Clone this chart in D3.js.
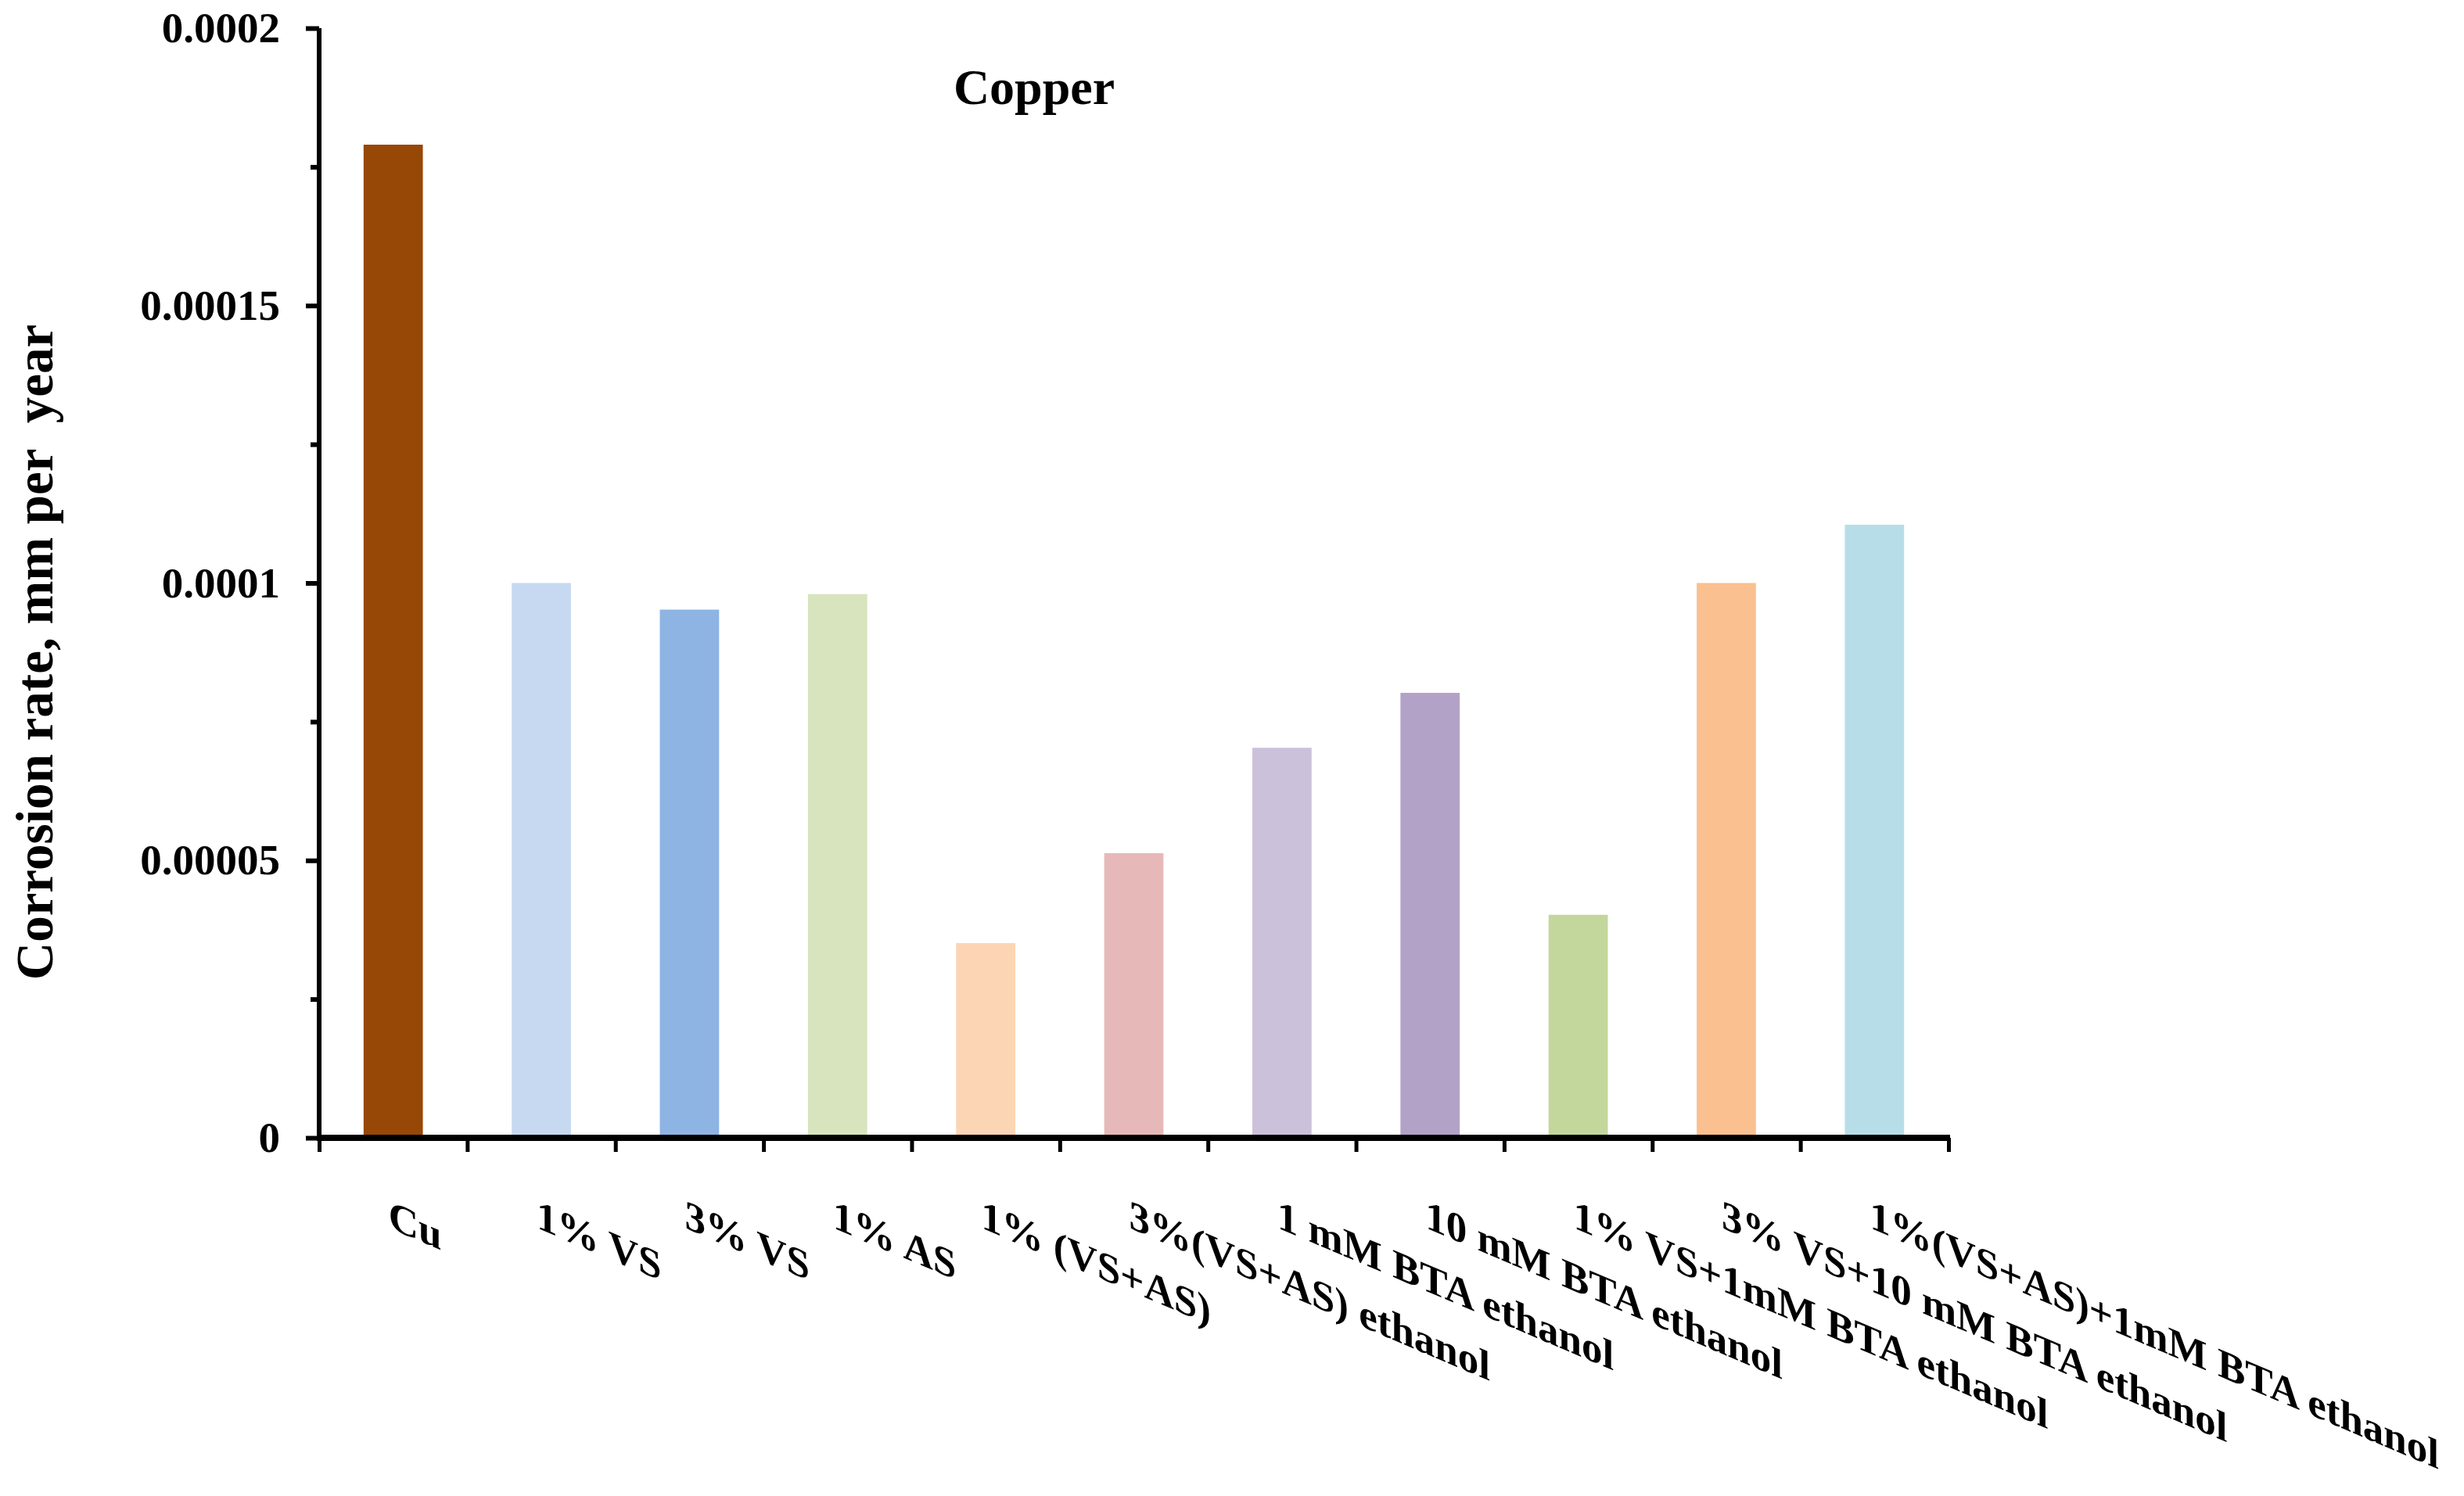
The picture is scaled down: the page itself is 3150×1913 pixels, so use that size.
<!DOCTYPE html>
<html>
<head>
<meta charset="utf-8" />
<title>Copper corrosion rate</title>
<style>
  *{margin:0;padding:0;}
  body{background:#fff;}
  text{font-family:"Liberation Serif","Times New Roman",serif;font-weight:bold;fill:#000;}
</style>
</head>
<body>
<script src="https://cdn.jsdelivr.net/npm/d3@7/dist/d3.min.js"></script>
<script>
// data
var categories = ["Cu", "1% VS", "3% VS", "1% AS", "1% (VS+AS)", "3%(VS+AS) ethanol",
  "1 mM BTA ethanol", "10 mM BTA ethanol", "1% VS+1mM BTA ethanol",
  "3% VS+10 mM BTA ethanol", "1%(VS+AS)+1mM BTA ethanol"];
var rates = [0.000179, 0.0001, 0.0000952, 0.000098, 0.0000351, 0.0000513,
  0.0000703, 0.0000802, 0.0000402, 0.0001, 0.0001105];
var barColors = ["#974706", "#C6D9F1", "#8EB4E3", "#D7E4BD", "#FCD5B5", "#E6B9B8",
  "#CCC1DA", "#B3A2C7", "#C3D69B", "#FAC090", "#B7DEE8"];
var majorTicks = [0, 0.00005, 0.0001, 0.00015, 0.0002];
var majorLabels = ["0", "0.00005", "0.0001", "0.00015", "0.0002"];
var minorTicks = [0.000025, 0.000075, 0.000125, 0.000175];

var W = 3150, H = 1913;
// plot box (named so they don't clash with window.top)
var pLeft = 408, pRight = 2491, pTop = 36, pBottom = 1455;

var svg = d3.select("body").append("svg")
  .attr("width", W).attr("height", H)
  .style("background", "#fff");

var x = d3.scaleBand().domain(categories).range([pLeft, pRight])
  .paddingInner(0.6).paddingOuter(0.3);
var xEdge = d3.scaleLinear().domain([0, categories.length]).range([pLeft, pRight]);
var y = d3.scaleLinear().domain([0, 0.0002]).range([pBottom, pTop]);

// bars
svg.selectAll("rect.bar")
  .data(rates).enter().append("rect")
  .attr("class", "bar")
  .attr("x", function(d, i){ return x(categories[i]); })
  .attr("width", x.bandwidth())
  .attr("y", function(d){ return y(d); })
  .attr("height", function(d){ return pBottom - y(d); })
  .attr("fill", function(d, i){ return barColors[i]; });

// y axis
var yAxis = svg.append("g").attr("transform", "translate(" + pLeft + ",0)")
  .call(d3.axisLeft(y).tickValues(majorTicks)
    .tickFormat(function(d, i){ return majorLabels[i]; })
    .tickSize(17).tickPadding(33));
yAxis.select(".domain").attr("stroke-width", 6).attr("d", "M0," + pTop + "V" + pBottom);
yAxis.selectAll(".tick line").attr("stroke-width", 6);
yAxis.selectAll(".tick text")
  .style("font-size", "55px").style("font-family", "Liberation Serif").style("font-weight", "bold");

var yMinor = svg.append("g").attr("transform", "translate(" + pLeft + ",0)")
  .call(d3.axisLeft(y).tickValues(minorTicks).tickFormat("").tickSize(11));
yMinor.select(".domain").remove();
yMinor.selectAll(".tick line").attr("stroke-width", 6);

// x axis with ticks on category edges
var xAxis = svg.append("g").attr("transform", "translate(0," + pBottom + ")")
  .call(d3.axisBottom(xEdge).tickValues(d3.range(categories.length + 1))
    .tickFormat("").tickSize(18));
xAxis.select(".domain").attr("stroke-width", 8).attr("d", "M" + (pLeft - 3) + ",0H" + (pRight + 2));
xAxis.selectAll(".tick line").attr("stroke-width", 5);

// skewed category labels
svg.selectAll("text.cat")
  .data(categories).enter().append("text")
  .attr("class", "cat")
  .attr("transform", function(d){
    var cx = x(d) + x.bandwidth() / 2 - 6;
    return "translate(" + cx + ",1570) skewY(23)";
  })
  .style("font-size", "53px")
  .text(function(d){ return d; });

// title
svg.append("text")
  .attr("x", 1322).attr("y", 133)
  .attr("text-anchor", "middle")
  .style("font-size", "64px")
  .text("Copper");

// y axis title
svg.append("text")
  .attr("transform", "translate(44,834) rotate(-90)")
  .attr("text-anchor", "middle")
  .attr("dy", "0.35em")
  .style("font-size", "67px")
  .style("white-space", "pre")
  .text("Corrosion rate, mm per  year");
</script>
</body>
</html>
